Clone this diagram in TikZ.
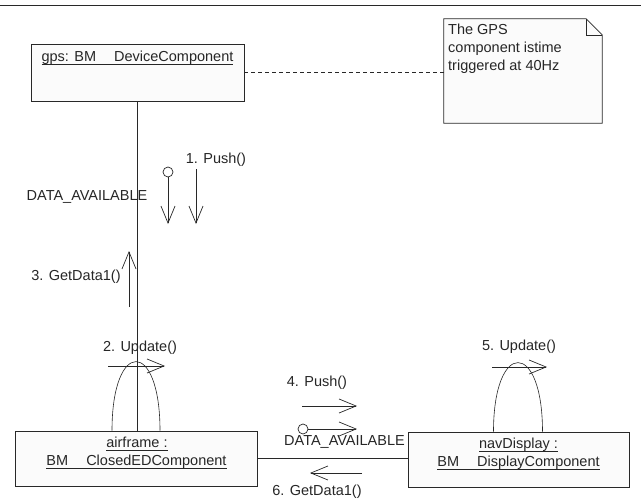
\documentclass[tikz,border=0pt]{standalone}
\usepackage{fontspec}
\setmainfont{Liberation Sans}
\usetikzlibrary{arrows.meta,positioning}
\definecolor{umlline}{RGB}{40,40,40}
\definecolor{umlfill}{RGB}{251,251,251}
\newcommand{\objname}[1]{\setbox0=\hbox{#1}\leavevmode\rlap{\rule[-3pt]{\wd0}{1.1pt}}\box0}

\begin{document}
\begin{tikzpicture}[x=1pt, y=-1pt, font=\fontsize{14.5}{16}\selectfont,
  obj/.style={draw=umlline, fill=umlfill, line width=0.8pt, inner sep=0pt},
  link/.style={umlline, line width=0.8pt},
  msg/.style={umlline, line width=0.7pt, -{Straight Barb[length=17pt,width=14pt]}},
  lolli/.style={circle, draw=umlline, line width=0.7pt, fill=white, minimum size=10pt, inner sep=0pt},
  lbl/.style={inner sep=0pt, text=black!85}]
\useasboundingbox (0,0) rectangle (641,499);
\draw[link, line width=1pt] (0,5.5) -- (641,5.5);
% objects
\node[obj, minimum width=213, minimum height=57] (gps) at (137.5,72.5) {};
\node[lbl] (gpsname) at (137.5,58) {\objname{gps: BM\hspace{14pt} DeviceComponent}};
\node[obj, minimum width=242, minimum height=55] (airframe) at (136,458.5) {};
\node[lbl] (afname1) at (137,444) {\objname{airframe :}};
\node[lbl] (afname2) at (136.5,462) {\objname{BM\hspace{14pt} ClosedEDComponent}};
\node[obj, minimum width=221, minimum height=55] (navdisp) at (518.5,459.5) {};
\node[lbl] (ndname1) at (518.5,445) {\objname{navDisplay :}};
\node[lbl] (ndname2) at (518.5,463) {\objname{BM\hspace{14pt} DisplayComponent}};
% note
\node[minimum width=158, minimum height=104, inner sep=0pt] (note) at (523,71) {};
\draw[link, fill=umlfill] (note.north west) -- ([xshift=-16pt]note.north east) -- ([yshift=-16pt]note.north east) -- (note.south east) -- (note.south west) -- cycle;
\draw[link, line width=0.6pt] ([xshift=-16pt]note.north east) |- ([yshift=-16pt]note.north east);
\node[lbl, anchor=north west, align=left, font=\fontsize{14.5}{18}\selectfont] (notetext) at (448,24) {The GPS\\component istime\\triggered at 40Hz};
\draw[link, dashed, dash pattern=on 4pt off 3pt] (gps.east) -- (gps.east -| note.west);
% links
\draw[link] (gps.south) -- (gps.south |- airframe.north);
\draw[link] (airframe.east) -- (airframe.east -| navdisp.west);
% 1. Push()
\node[lolli] (da1) at (168,172) {};
\coordinate (da1end) at (168,224);
\draw[msg] (da1.south) -- (da1end);
\coordinate (push1a) at (196,169);
\coordinate (push1b) at (196,224);
\draw[msg] (push1a) -- (push1b);
\node[lbl] (push1lbl) at (216,160) {1. Push()};
\node[lbl] (da1lbl) at (87,197) {DATA\_AVAILABLE};
% 3. GetData1()
\coordinate (get3a) at (129,307);
\coordinate (get3b) at (129,251);
\draw[msg] (get3a) -- (get3b);
\node[lbl] (get3lbl) at (76,277) {3. GetData1()};
% 2. Update()
\coordinate (afl) at ([xshift=-24pt]airframe.north);
\coordinate (afr) at ([xshift=24pt]airframe.north);
\draw[link, line width=0.6pt] (afl) .. controls +(0,-92) and +(0,-92) .. (afr);
\coordinate (upd2a) at (108,366);
\coordinate (upd2b) at (165,366);
\draw[msg] (upd2a) -- (upd2b);
\node[lbl] (upd2lbl) at (140,348) {2. Update()};
% 5. Update()
\coordinate (ndl) at ([xshift=-25pt]navdisp.north);
\coordinate (ndr) at ([xshift=24pt]navdisp.north);
\draw[link, line width=0.6pt] (ndl) .. controls +(0,-92) and +(0,-92) .. (ndr);
\coordinate (upd5a) at (492,367);
\coordinate (upd5b) at (547,367);
\draw[msg] (upd5a) -- (upd5b);
\node[lbl] (upd5lbl) at (519,347) {5. Update()};
% 4. Push()
\coordinate (push4a) at (302,406);
\coordinate (push4b) at (357,406);
\draw[msg] (push4a) -- (push4b);
\node[lbl] (push4lbl) at (317,383) {4. Push()};
\node[lolli] (da4) at (303,429) {};
\coordinate (da4end) at (357,429);
\draw[msg] (da4.east) -- (da4end);
\node[lbl] (da4lbl) at (344.5,442) {DATA\_AVAILABLE};
% 6. GetData1()
\coordinate (get6a) at (362,473);
\coordinate (get6b) at (310,473);
\draw[msg] (get6a) -- (get6b);
\node[lbl] (get6lbl) at (317,492) {6. GetData1()};
\end{tikzpicture}
\end{document}
